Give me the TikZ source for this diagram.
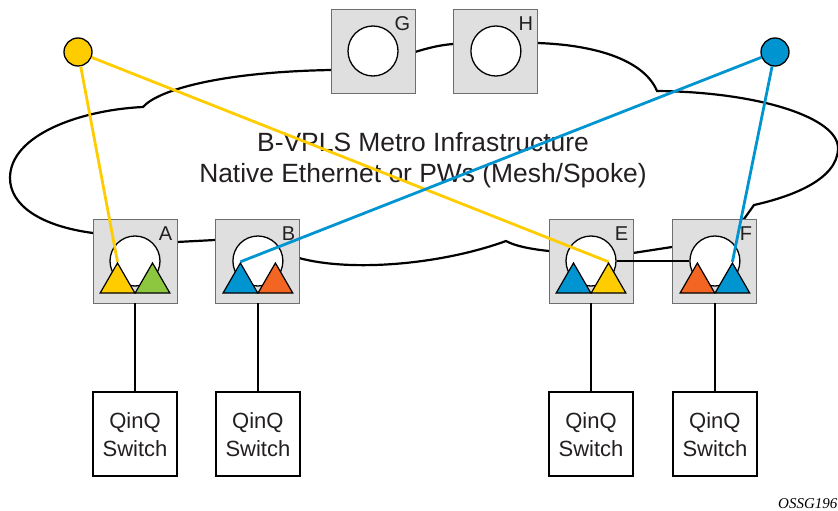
\documentclass[tikz,border=0pt]{standalone}
\usepackage{fontspec}
\setmainfont{Liberation Sans}
\newfontfamily\figidfont{Liberation Serif}
\usepackage{tikz}
\usetikzlibrary{positioning, shapes.geometric}
\definecolor{VYellow}{HTML}{FFCC00}
\definecolor{VGreen}{HTML}{8DC63F}
\definecolor{VBlue}{HTML}{0095D0}
\definecolor{VOrange}{HTML}{F26522}
\definecolor{RFill}{HTML}{DFDFDF}
\definecolor{RGrey}{HTML}{6D6E71}
\definecolor{RInk}{HTML}{231F20}

\begin{document}
\begin{tikzpicture}[
  x=1pt, y=-1pt,
  font=\fontsize{22}{28}\selectfont, text=RInk,
  node distance=38pt,
  router/.style={rectangle, draw=RGrey, fill=RFill, line width=0.9pt,
                 minimum size=84pt, inner sep=0pt},
  ring/.style={circle, draw=black, fill=white, line width=1.3pt,
               minimum size=50pt, inner sep=0pt},
  tri/.style={regular polygon, regular polygon sides=3, draw=black,
              line width=1.2pt, minimum size=40pt, inner sep=0pt},
  tag/.style={anchor=north east, inner sep=0pt, font=\fontsize{20}{24}\selectfont},
  qinq/.style={rectangle, draw=black, fill=white, line width=2pt,
               minimum size=84pt, inner sep=0pt, align=center},
  site/.style={circle, draw=black, line width=1.3pt, minimum size=28pt, inner sep=0pt},
  wire/.style={draw=black, line width=2.2pt},
  vlan/.style={line width=2.8pt},
]
\useasboundingbox (0,0) rectangle (838,511);

% metro cloud
\draw[wire] (93,233) .. controls (40,226) and (10,205) .. (10,178)
  .. controls (10,135) and (80,110) .. (143,107)
  .. controls (158,90) and (220,72) .. (331,70)
  -- (415,52) .. controls (428,48) and (440,45) .. (453,44)
  -- (537,43) .. controls (600,45) and (645,62) .. (657,91)
  .. controls (760,92) and (838,118) .. (838,148)
  .. controls (838,180) and (790,197) .. (754,205)
  -- (744,219) -- (672,247) -- (633,253) -- (549,251)
  .. controls (530,249) and (515,246) .. (506,241)
  .. controls (440,265) and (350,272) .. (299,258)
  -- (215,240) -- (177,242) -- cycle;

\node[align=center, font=\fontsize{26.4}{31}\selectfont] (metro) at (423,160)
  {B-VPLS Metro Infrastructure\\Native Ethernet or PWs (Mesh/Spoke)};

% routers
\node[router] (A) at (135,261) {};
\node[router, right=of A] (B) {};
\node[router] (E) at (591,261) {};
\node[router, right=39pt of E] (F) {};
\node[router] (G) at (373,51) {};
\node[router, right=of G] (H) {};

\foreach \n in {A,B,E,F,G,H} {
  \node[ring] (\n-c) at (\n) {};
  \node[tag] at ([shift={(-5pt,-8pt)}]\n.north east) {\n};
}

\foreach \n/\lcol/\rcol in {A/VYellow/VGreen, B/VBlue/VOrange, E/VBlue/VYellow, F/VOrange/VBlue} {
  \node[tri, fill=\lcol] (\n-l) at ([shift={(-17.5pt,-22pt)}]\n.center) {};
  \node[tri, fill=\rcol] (\n-r) at ([shift={(17.5pt,-22pt)}]\n.center) {};
  \node[qinq, below=88pt of \n] (\n-sw) {QinQ\\Switch};
  \draw[wire] (\n) -- (\n-sw);
}

\draw[wire] (E-c) -- (F-c);

% VPLS end points
\node[site, fill=VYellow] (ysite) at (78,52) {};
\node[site, fill=VBlue] (bsite) at (775,52) {};
\draw[vlan, draw=VYellow] (ysite) -- (A-l.corner 1);
\draw[vlan, draw=VYellow] (ysite) -- (E-r.corner 1);
\draw[vlan, draw=VBlue] (bsite) -- (B-l.corner 1);
\draw[vlan, draw=VBlue] (bsite) -- (F-r.corner 1);

\node[anchor=base west, inner sep=0pt, text=black,
      font=\figidfont\itshape\fontsize{15}{18}\selectfont] (figid) at (778,508) {OSSG196};
\end{tikzpicture}
\end{document}
